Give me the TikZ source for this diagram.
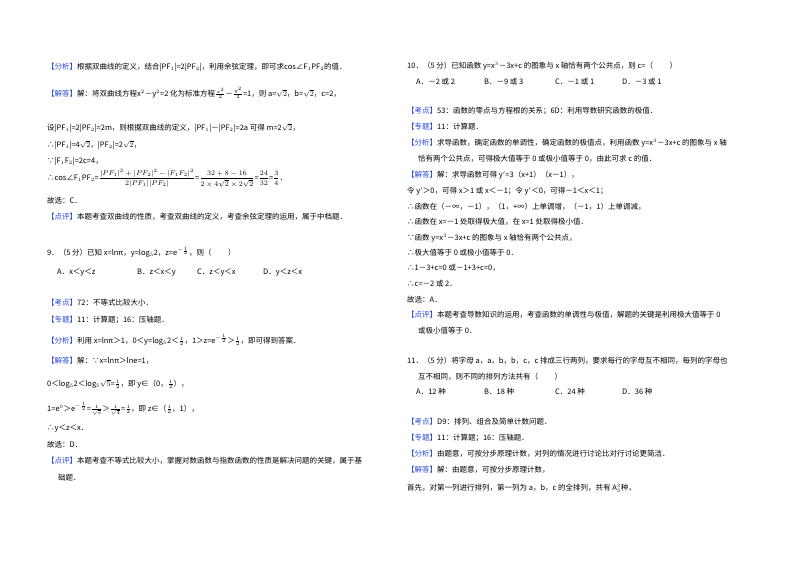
\documentclass[tikz,border=0pt]{standalone}
\usepackage{fontspec}
\usepackage{amsmath}
\setmainfont{Noto Sans CJK SC}
\newfontfamily\cjk{Noto Sans CJK SC}
\definecolor{tagblue}{RGB}{40,70,210}
\newcommand\tg[1]{\textcolor{tagblue}{【#1】}}
\newcommand\hf{\tfrac{1}{2}}
\begin{document}
\begin{tikzpicture}[x=1pt,y=-1pt,
  tx/.style={anchor=west,inner sep=0pt,font=\cjk\fontsize{7.5}{9}\selectfont}]
\useasboundingbox (0,0) rectangle (800,565);
\fill[white] (0,0) rectangle (800,565);
% left column
\node[tx] (l1) at (47,67) {\tg{分析}根据双曲线的定义，结合|PF$_1$|=2|PF$_2$|，利用余弦定理，即可求cos∠F$_1$PF$_2$的值．};
\node[tx] (l2) at (47,93) {\tg{解答}解：将双曲线方程x$^2$－y$^2$=2 化为标准方程$\tfrac{x^2}{2}$－$\tfrac{y^2}{2}$=1，则 a=$\sqrt2$，b=$\sqrt2$，c=2，};
\node[tx] (l3) at (47,128) {设|PF$_1$|=2|PF$_2$|=2m，则根据双曲线的定义，|PF$_1$|－|PF$_2$|=2a 可得 m=2$\sqrt2$，};
\node[tx] (l4) at (47,145) {∴|PF$_1$|=4$\sqrt2$，|PF$_2$|=2$\sqrt2$，};
\node[tx] (l5) at (47,161) {∵|F$_1$F$_2$|=2c=4，};
\node[tx] (l6) at (47,178) {∴cos∠F$_1$PF$_2$=$\dfrac{|PF_1|^2+|PF_2|^2-|F_1F_2|^2}{2|PF_1||PF_2|}$=$\dfrac{32+8-16}{2\times4\sqrt2\times2\sqrt2}$=$\dfrac{24}{32}$=$\dfrac34$．};
\node[tx] (l7) at (47,201) {故选：C．};
\node[tx] (l8) at (47,217) {\tg{点评}本题考查双曲线的性质，考查双曲线的定义，考查余弦定理的运用，属于中档题．};
\node[tx] (l9) at (47,252) {9．（5 分）已知 x=lnπ，y=log$_5$2，z=e$^{-\frac12}$，则（\hspace{2.2em}）};
\node[tx] (l9a) at (57,273) {A．x＜y＜z};
\node[tx] (l9b) at (137,273) {B．z＜x＜y};
\node[tx] (l9c) at (197,273) {C．z＜y＜x};
\node[tx] (l9d) at (263,273) {D．y＜z＜x};
\node[tx] (l10) at (47,303) {\tg{考点}72：不等式比较大小．};
\node[tx] (l11) at (47,320) {\tg{专题}11：计算题；16：压轴题．};
\node[tx] (l12) at (47,340) {\tg{分析}利用 x=lnπ＞1，0＜y=log$_5$2＜$\hf$，1＞z=e$^{-\frac12}$＞$\hf$，即可得到答案．};
\node[tx] (l13) at (47,361) {\tg{解答}解：∵x=lnπ＞lne=1，};
\node[tx] (l14) at (47,384) {0＜log$_5$2＜log$_5\sqrt5$=$\hf$，即 y∈（0，$\hf$），};
\node[tx] (l15) at (47,409) {1=e$^0$＞e$^{-\frac12}$=$\tfrac{1}{\sqrt e}$＞$\tfrac{1}{\sqrt4}$=$\hf$，即 z∈（$\hf$，1），};
\node[tx] (l16) at (47,429) {∴y＜z＜x．};
\node[tx] (l17) at (47,445) {故选：D．};
\node[tx] (l18) at (47,461) {\tg{点评}本题考查不等式比较大小，掌握对数函数与指数函数的性质是解决问题的关键，属于基};
\node[tx] (l19) at (58,478) {础题．};
% right column
\node[tx] (r1) at (407,66) {10．（5 分）已知函数 y=x$^3$－3x+c 的图象与 x 轴恰有两个公共点，则 c=（\hspace{2.2em}）};
\node[tx] (r1a) at (416,82) {A．－2 或 2};
\node[tx] (r1b) at (484,82) {B．－9 或 3};
\node[tx] (r1c) at (555,82) {C．－1 或 1};
\node[tx] (r1d) at (622,82) {D．－3 或 1};
\node[tx] (r2) at (407,111) {\tg{考点}53：函数的零点与方程根的关系；6D：利用导数研究函数的极值．};
\node[tx] (r3) at (407,127) {\tg{专题}11：计算题．};
\node[tx] (r4) at (407,143) {\tg{分析}求导函数，确定函数的单调性，确定函数的极值点，利用函数 y=x$^3$－3x+c 的图象与 x 轴};
\node[tx] (r5) at (418,159) {恰有两个公共点，可得极大值等于 0 或极小值等于 0，由此可求 c 的值．};
\node[tx] (r6) at (407,175) {\tg{解答}解：求导函数可得 y$'$=3（x+1）（x－1），};
\node[tx] (r7) at (407,191) {令 y$'$＞0，可得 x＞1 或 x＜－1；令 y$'$＜0，可得－1＜x＜1；};
\node[tx] (r8) at (407,207) {∴函数在（－∞，－1），（1，+∞）上单调增，（－1，1）上单调减，};
\node[tx] (r9) at (407,222) {∴函数在 x=－1 处取得极大值，在 x=1 处取得极小值．};
\node[tx] (r10) at (407,238) {∵函数 y=x$^3$－3x+c 的图象与 x 轴恰有两个公共点，};
\node[tx] (r11) at (407,253) {∴极大值等于 0 或极小值等于 0．};
\node[tx] (r12) at (407,268) {∴1－3+c=0 或－1+3+c=0，};
\node[tx] (r13) at (407,284) {∴c=－2 或 2．};
\node[tx] (r14) at (407,300) {故选：A．};
\node[tx] (r15) at (407,315) {\tg{点评}本题考查导数知识的运用，考查函数的单调性与极值，解题的关键是利用极大值等于 0};
\node[tx] (r16) at (418,331) {或极小值等于 0．};
\node[tx] (r17) at (407,361) {11．（5 分）将字母 a，a，b，b，c，c 排成三行两列，要求每行的字母互不相同，每列的字母也};
\node[tx] (r18) at (418,377) {互不相同，则不同的排列方法共有（\hspace{2.2em}）};
\node[tx] (r18a) at (416,392) {A．12 种};
\node[tx] (r18b) at (484,392) {B．18 种};
\node[tx] (r18c) at (555,392) {C．24 种};
\node[tx] (r18d) at (622,392) {D．36 种};
\node[tx] (r19) at (407,422) {\tg{考点}D9：排列、组合及简单计数问题．};
\node[tx] (r20) at (407,438) {\tg{专题}11：计算题；16：压轴题．};
\node[tx] (r21) at (407,454) {\tg{分析}由题意，可按分步原理计数，对列的情况进行讨论比对行讨论更简洁．};
\node[tx] (r22) at (407,470) {\tg{解答}解：由题意，可按分步原理计数，};
\node[tx] (r23) at (407,488) {首先，对第一列进行排列，第一列为 a，b，c 的全排列，共有 A$_3^3$种，};
\end{tikzpicture}
\end{document}
